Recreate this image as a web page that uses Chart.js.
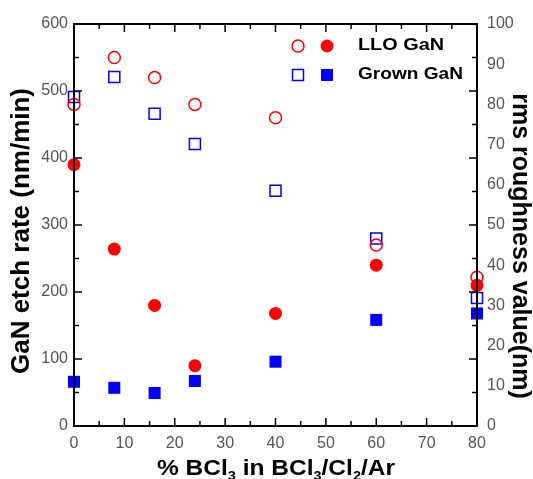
<!DOCTYPE html>
<html>
<head>
<meta charset="utf-8">
<script src="https://cdn.jsdelivr.net/npm/chart.js@4.4.0/dist/chart.umd.min.js"></script>
<style>
  html, body { margin: 0; padding: 0; background: #fff; }
  #wrap { width: 533px; height: 479px; }
</style>
</head>
<body>
<div id="wrap"><canvas id="chart"></canvas></div>
<script>
// % BCl3 in the gas mix
const bcl3 = [0, 8, 16, 24, 40, 60, 80];
// etch rate (nm/min), left axis - open markers
const lloEtch = [480, 550, 520, 480, 460, 270, 222];
const grownEtch = [491, 521, 466, 421, 351, 280, 191];
// rms roughness (nm), right axis - filled markers
const lloRough = [65, 44, 30, 15, 28, 40, 35];
const grownRough = [11, 9.5, 8.2, 11.2, 16, 26.4, 28];

const legendRows = ['LLO GaN', 'Grown GaN'];
const leftTitle = 'GaN etch rate (nm/min)';
const rightTitle = 'rms roughness value(nm)';
// x title pieces, true = subscript
const xTitle = [['% BCl', false], ['3', true], [' in BCl', false], ['3', true],
                ['/Cl', false], ['2', true], ['/Ar', false]];

const RED = '#ff0000';
const BLUE = '#0000ff';
const TICK_GRAY = '#555';
const FONT = 'Arial, "Liberation Sans", sans-serif';

const toPoints = (ys) => bcl3.map((x, i) => ({ x: x, y: ys[i] }));

// the original lettering is a bit wider than Arial, so stretch it to the measured width
function wideText(ctx, text, x, y, width) {
    const m = ctx.measureText(text).width;
    ctx.save();
    ctx.translate(x, y);
    ctx.scale(width / m, 1);
    ctx.fillText(text, 0, 0);
    ctx.restore();
}

const decorations = {
    id: 'decorations',
    afterDraw(chart) {
        const ctx = chart.ctx;
        const a = chart.chartArea;
        const xs = chart.scales.x;
        const yl = chart.scales.y;
        ctx.save();
        ctx.strokeStyle = '#000';
        ctx.lineWidth = 2;
        ctx.strokeRect(a.left, a.top, a.right - a.left, a.bottom - a.top);

        // inward ticks on all four sides
        ctx.lineWidth = 1.5;
        ctx.beginPath();
        for (let v = 0; v <= 80; v += 5) {
            const px = xs.getPixelForValue(v);
            const len = v % 10 === 0 ? 8 : 5;
            ctx.moveTo(px, a.bottom); ctx.lineTo(px, a.bottom - len);
            ctx.moveTo(px, a.top); ctx.lineTo(px, a.top + len);
        }
        for (let v = 0; v <= 600; v += 50) {
            const py = yl.getPixelForValue(v);
            const len = v % 100 === 0 ? 8 : 5;
            ctx.moveTo(a.left, py); ctx.lineTo(a.left + len, py);
            ctx.moveTo(a.right, py); ctx.lineTo(a.right - len, py);
        }
        ctx.stroke();

        // legend
        const lx1 = 298, lx2 = 327, ly = [46, 75];
        ctx.lineWidth = 1.5;
        ctx.strokeStyle = RED; ctx.fillStyle = RED;
        ctx.beginPath(); ctx.arc(lx1, ly[0], 6, 0, Math.PI * 2); ctx.stroke();
        ctx.beginPath(); ctx.arc(lx2, ly[0], 6.5, 0, Math.PI * 2); ctx.fill();
        ctx.strokeStyle = BLUE; ctx.fillStyle = BLUE;
        ctx.strokeRect(lx1 - 5.5, ly[1] - 5.5, 11, 11);
        ctx.fillRect(lx2 - 6, ly[1] - 6, 12, 12);
        ctx.fillStyle = '#000';
        ctx.font = 'bold 16px ' + FONT;
        ctx.textBaseline = 'middle';
        ctx.textAlign = 'left';
        wideText(ctx, legendRows[0], 358, ly[0], 86);
        wideText(ctx, legendRows[1], 358, ly[1], 105);

        // vertical axis titles
        ctx.textAlign = 'center';
        ctx.font = 'bold 26px ' + FONT;
        ctx.save();
        ctx.translate(22, 231);
        ctx.rotate(-Math.PI / 2);
        ctx.fillText(leftTitle, 0, 0);
        ctx.restore();
        ctx.font = 'bold 25px ' + FONT;
        ctx.save();
        ctx.translate(520, 246);
        ctx.rotate(Math.PI / 2);
        ctx.fillText(rightTitle, 0, 0);
        ctx.restore();

        // x axis title with subscripts
        const big = 'bold 22px ' + FONT, small = 'bold 13px ' + FONT;
        let w = 0;
        xTitle.forEach(p => { ctx.font = p[1] ? small : big; w += ctx.measureText(p[0]).width; });
        ctx.textAlign = 'left';
        ctx.textBaseline = 'alphabetic';
        ctx.save();
        ctx.translate(157, 475);
        ctx.scale(238 / w, 1);
        let x = 0;
        xTitle.forEach(p => {
            ctx.font = p[1] ? small : big;
            ctx.fillText(p[0], x, p[1] ? 5 : 0);
            x += ctx.measureText(p[0]).width;
        });
        ctx.restore();
        ctx.restore();
    }
};

new Chart(document.getElementById('chart'), {
    type: 'scatter',
    data: {
        datasets: [
            { label: 'LLO GaN etch', data: toPoints(lloEtch), yAxisID: 'y', clip: false,
              pointStyle: 'circle', pointRadius: 6, borderColor: RED, borderWidth: 1.5,
              backgroundColor: 'rgba(0,0,0,0)' },
            { label: 'Grown GaN etch', data: toPoints(grownEtch), yAxisID: 'y', clip: false,
              pointStyle: 'rect', pointRadius: 7.8, borderColor: BLUE, borderWidth: 1.5,
              backgroundColor: 'rgba(0,0,0,0)' },
            { label: 'LLO GaN rms', data: toPoints(lloRough), yAxisID: 'y2', clip: false,
              pointStyle: 'circle', pointRadius: 6.5, borderWidth: 0,
              backgroundColor: RED },
            { label: 'Grown GaN rms', data: toPoints(grownRough), yAxisID: 'y2', clip: false,
              pointStyle: 'rect', pointRadius: 8.5, borderWidth: 0,
              backgroundColor: BLUE }
        ]
    },
    options: {
        responsive: true,
        maintainAspectRatio: false,
        animation: false,
        layout: { padding: { top: 24, left: 0, right: 0, bottom: 0 } },
        plugins: { legend: { display: false }, tooltip: { enabled: false } },
        elements: { point: { hoverRadius: 0 } },
        scales: {
            x: {
                type: 'linear', min: 0, max: 80,
                grid: { display: false, drawTicks: false, tickLength: 0 },
                border: { display: false },
                ticks: { stepSize: 10, color: TICK_GRAY, padding: 8,
                         font: { family: FONT, size: 16 } },
                afterFit: (s) => { s.height = 53; }
            },
            y: {
                position: 'left', min: 0, max: 600,
                grid: { display: false, drawTicks: false, tickLength: 0 },
                border: { display: false },
                ticks: { stepSize: 100, color: TICK_GRAY, padding: 6,
                         font: { family: FONT, size: 16 } },
                afterFit: (s) => { s.width = 74; }
            },
            y2: {
                position: 'right', min: 0, max: 100,
                grid: { display: false, drawTicks: false, tickLength: 0 },
                border: { display: false },
                ticks: { stepSize: 10, color: TICK_GRAY, padding: 10,
                         font: { family: FONT, size: 16 } },
                afterFit: (s) => { s.width = 56; }
            }
        }
    },
    plugins: [decorations]
});
</script>
</body>
</html>
